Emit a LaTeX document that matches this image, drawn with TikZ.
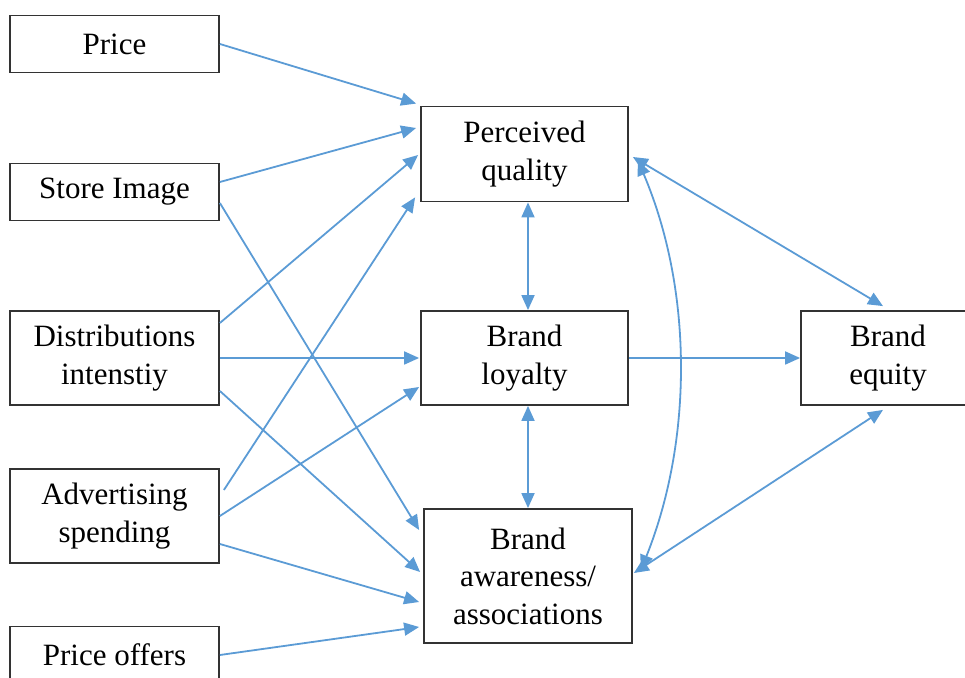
\documentclass[tikz,border=0pt]{standalone}
\usepackage{fontspec}
\setmainfont{Liberation Serif}
\usetikzlibrary{arrows.meta,calc}
\definecolor{linkblue}{RGB}{91,155,213}

\begin{document}
\begin{tikzpicture}[x=0.5pt,y=-0.5pt,
    box/.style={draw=black!80,line width=0.9pt,align=center,inner sep=0pt,
      font=\fontsize{15.5}{18.75}\selectfont},
    small/.style={box,minimum width=104.5pt,minimum height=28.5pt},
    tall/.style={box,minimum width=104pt,minimum height=47pt},
    link/.style={draw=linkblue,line width=0.9pt,-{Triangle[length=7.5pt,width=6.5pt]}},
    both/.style={link,{Triangle[length=7.5pt,width=6.5pt]}-{Triangle[length=7.5pt,width=6.5pt]}}]
    \useasboundingbox (0,0) rectangle (965,678);
    \node[small] (price) at (114.5,44) {Price};
    \node[small] (store) at (114.5,192) {Store Image};
    \node[tall,minimum width=104.5pt] (dist) at (114.5,358) {Distributions\\intenstiy};
    \node[tall,minimum width=104.5pt] (adv) at (114.5,516) {Advertising\\spending};
    \node[small] (offers) at (114.5,655) {Price offers};
    \node[tall,minimum width=103.5pt,minimum height=47.5pt] (pq) at (524.5,154) {Perceived\\quality};
    \node[tall,minimum width=103.5pt] (bl) at (524.5,358) {Brand\\loyalty};
    \node[tall,minimum height=67pt] (ba) at (528,576) {Brand\\awareness/\\associations};
    \node[tall,minimum width=87pt] (be) at (888,358) {Brand\\equity};
    \draw [link] (price.east) to ($(pq.north west)+(-4,-2)$);
    \draw [link] ($(store.east)+(0,-10)$) to ($(pq.west)+(-4,-26)$);
    \draw [link] ($(dist.east)+(0,-35)$) to ($(pq.west)+(-2,1)$);
    \draw [link] ($(adv.east)+(4,-26)$) to ($(pq.south west)+(-5,-5)$);
    \draw [link] (dist.east) to ($(bl.west)+(-1,0)$);
    \draw [link] (adv.east) to ($(bl.west)+(-1,29)$);
    \draw [link] ($(store.east)+(0,11)$) to ($(ba.west)+(-4,-46)$);
    \draw [link] ($(dist.east)+(0,33)$) to ($(ba.west)+(-3,-4)$);
    \draw [link] ($(adv.east)+(0,28)$) to ($(ba.west)+(-4,26)$);
    \draw [link] (offers.east) to ($(ba.west)+(-4,51)$);
    \draw [both] ($(pq.south)+(3.5,0)$) to ($(bl.north)+(3.5,0)$);
    \draw [both] ($(bl.south)+(3.5,0)$) to (ba.north);
    \draw [link] (bl.east) to (be.west);
    \draw [both] ($(pq.east)+(4,3)$) to ($(be.north)+(-5,-4)$);
    \draw [both] ($(ba.east)+(1,-3)$) to ($(be.south)+(-5,4)$);
    \draw [both] ($(pq.east)+(9,6.5)$) .. controls (693,290) and (693,440) .. ($(ba.east)+(8,-6)$);
\end{tikzpicture}
\end{document}
